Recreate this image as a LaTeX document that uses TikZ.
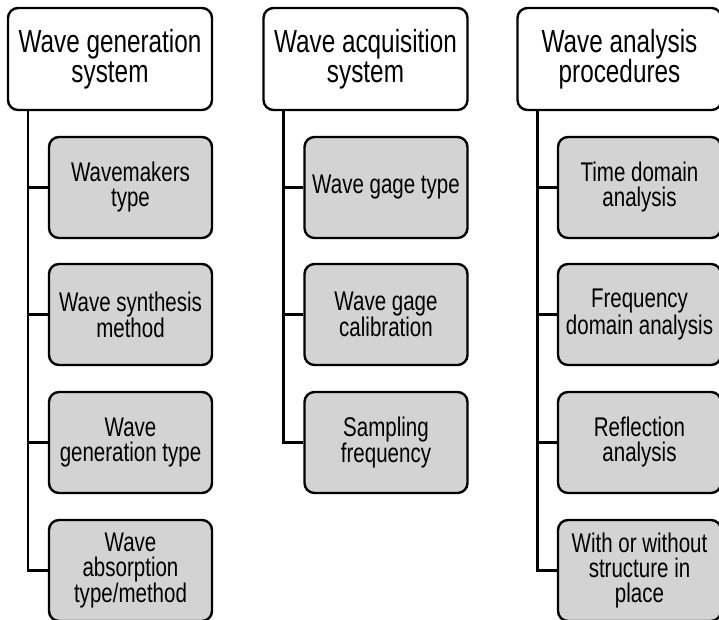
\documentclass[tikz,border=0pt]{standalone}
\usepackage{fontspec}
\setmainfont[FakeStretch=0.76]{Liberation Sans}

\begin{document}
\begin{tikzpicture}[x=1pt, y=-1pt]
    \tikzset{
        topbox/.style={draw, line width=2.4pt, rounded corners=10pt, fill=white,
            minimum width=204pt, minimum height=102pt, inner sep=0pt, align=center,
            font=\fontsize{32}{30}\selectfont},
        subbox/.style={draw, line width=2.4pt, rounded corners=10pt, fill=boxgray,
            minimum width=163pt, minimum height=101pt, inner sep=0pt, align=center,
            font=\fontsize{27}{25}\selectfont},
        branch/.style={line width=2.6pt}
    }
    \definecolor{boxgray}{RGB}{211,211,211}
    \useasboundingbox (0,0) rectangle (719,620);

    % wave generation
    \node [topbox] (gen) at (110, 59) {Wave generation\\system};
    \node [subbox] (gen1) at (130.5, 187.5) {Wavemakers\\type};
    \node [subbox] (gen2) at (130.5, 314.5) {Wave synthesis\\method};
    \node [subbox] (gen3) at (130.5, 442.5) {Wave\\generation type};
    \node [subbox] (gen4) at (130.5, 570.5) {Wave\\absorption\\type/method};
    \foreach \i in {1,...,4}
        \draw [branch] ([xshift=21pt]gen.south west) |- (gen\i.west);

    % wave acquisition
    \node [topbox] (acq) at (365.5, 59) {Wave acquisition\\system};
    \node [subbox] (acq1) at (386, 187.5) {Wave gage type};
    \node [subbox] (acq2) at (386, 314.5) {Wave gage\\calibration};
    \node [subbox] (acq3) at (386, 442.5) {Sampling\\frequency};
    \foreach \i in {1,...,3}
        \draw [branch] ([xshift=21pt]acq.south west) |- (acq\i.west);

    % wave analysis
    \node [topbox] (ana) at (619.5, 59) {Wave analysis\\procedures};
    \node [subbox] (ana1) at (639.5, 187.5) {Time domain\\analysis};
    \node [subbox] (ana2) at (639.5, 314.5) {Frequency\\domain analysis};
    \node [subbox] (ana3) at (639.5, 442.5) {Reflection\\analysis};
    \node [subbox] (ana4) at (639.5, 570.5) {With or without\\structure in\\place};
    \foreach \i in {1,...,4}
        \draw [branch] ([xshift=21pt]ana.south west) |- (ana\i.west);

\end{tikzpicture}
\end{document}
